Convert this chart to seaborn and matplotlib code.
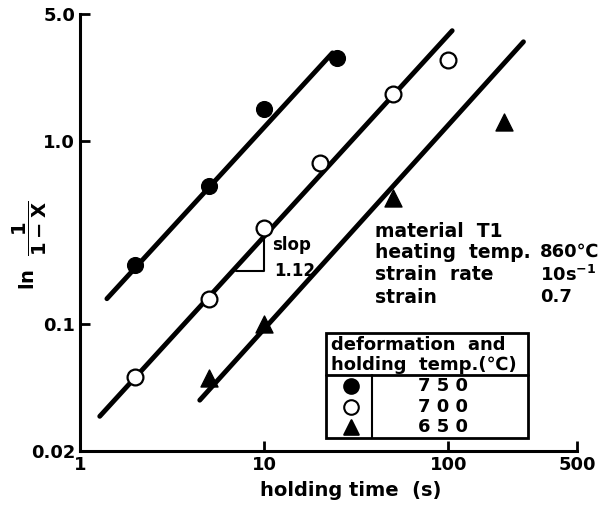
import matplotlib
matplotlib.use("Agg")
import matplotlib.pyplot as plt
import seaborn as sns
from matplotlib.patches import Rectangle

# data
t750 = [2, 5, 10, 25]
v750 = [0.21, 0.57, 1.5, 2.85]
t700 = [2, 5, 10, 20, 50, 100]
v700 = [0.051, 0.136, 0.335, 0.76, 1.82, 2.8]
t650 = [5, 10, 50, 200]
v650 = [0.05, 0.1, 0.49, 1.27]

# fitted lines (end points)
fit750_t = [1.4, 23.5]
fit750_v = [0.137, 3.06]
fit700_t = [1.28, 105]
fit700_v = [0.031, 4.05]
fit650_t = [4.47, 256]
fit650_v = [0.038, 3.52]

xticks = [1, 10, 100, 500]
yticks = [0.02, 0.1, 1.0, 5.0]
ytick_labels = ["0.02", "0.1", "1.0", "5.0"]

sns.set_style("ticks")
plt.rcParams["font.family"] = ["DejaVu Sans"]
plt.rcParams["font.weight"] = "bold"
plt.rcParams["mathtext.default"] = "bf"
for k in ["text.color", "axes.labelcolor", "xtick.color", "ytick.color", "axes.edgecolor"]:
    plt.rcParams[k] = "black"

fig = plt.figure(figsize=(6.04, 5.05), dpi=100)
ax = fig.add_axes([80 / 604, 1 - 451 / 505, 497 / 604, 437 / 505])

# fit lines
for ft, fv in [(fit750_t, fit750_v), (fit700_t, fit700_v), (fit650_t, fit650_v)]:
    sns.lineplot(x=ft, y=fv, ax=ax, color="black", lw=3.5, zorder=2)

# points
sns.scatterplot(x=t750, y=v750, ax=ax, marker="o", s=130, color="black",
                edgecolor="black", zorder=3)
sns.scatterplot(x=t700, y=v700, ax=ax, marker="o", s=130, color="white",
                edgecolor="black", linewidth=1.6, zorder=3)
sns.scatterplot(x=t650, y=v650, ax=ax, marker="^", s=150, color="black",
                edgecolor="black", zorder=3)

ax.set_xscale("log")
ax.set_yscale("log")
ax.set_xlim(1, 500)
ax.set_ylim(0.02, 5.0)
ax.set_xticks(xticks)
ax.set_xticklabels([str(v) for v in xticks])
ax.set_yticks(yticks)
ax.set_yticklabels(ytick_labels)
ax.minorticks_off()
ax.tick_params(direction="in", length=7, width=2, labelsize=13)
sns.despine(ax=ax)
for sp in ["left", "bottom"]:
    ax.spines[sp].set_linewidth(2.2)

ax.set_xlabel("holding time  (s)", fontsize=14, fontweight="bold")
ax.xaxis.set_label_coords(0.545, -0.068)
ax.set_ylabel(r"ln  $\dfrac{1}{1-X}$", fontsize=14, fontweight="bold")
ax.yaxis.set_label_coords(-0.062, 0.47)

# slope triangle
ax.plot([7.07, 10, 10], [0.194, 0.194, 0.33], color="black", lw=1.5, zorder=1)
ax.text(11, 0.27, "slop", fontsize=12, va="center")
ax.text(11.3, 0.195, "1.12", fontsize=12, va="center")

# condition text
rows = [("material  T1", ""), ("heating  temp.", "860\u2103"),
        ("strain  rate", r"10s$^{-1}$"), ("strain", "0.7")]
ys = [0.503, 0.455, 0.403, 0.352]
for (a, b), yy in zip(rows, ys):
    ax.text(0.594, yy, a, transform=ax.transAxes, fontsize=13.5, va="center")
    if b:
        ax.text(0.925, yy, b, transform=ax.transAxes, fontsize=13, va="center",
                clip_on=False)

# legend table
box = Rectangle((0.495, 0.030), 0.406, 0.240, transform=ax.transAxes,
                fill=False, lw=2, edgecolor="black", clip_on=False, zorder=4)
ax.add_patch(box)
ax.plot([0.495, 0.901], [0.174, 0.174], transform=ax.transAxes, color="black", lw=2)
ax.plot([0.5875, 0.5875], [0.030, 0.174], transform=ax.transAxes, color="black", lw=1.5)
ax.text(0.505, 0.243, "deformation  and", transform=ax.transAxes, fontsize=13, va="center")
ax.text(0.505, 0.197, "holding  temp.(\u2103)", transform=ax.transAxes, fontsize=13, va="center")
labels = ["750", "700", "650"]
row_y = [0.149, 0.101, 0.055]
styles = [("o", "black"), ("o", "white"), ("^", "black")]
for lab, yy, (mk, fc) in zip(labels, row_y, styles):
    ax.scatter([0.545], [yy], transform=ax.transAxes, marker=mk, s=110,
               facecolor=fc, edgecolor="black", linewidth=1.5, zorder=5)
    ax.text(0.73, yy, " ".join(lab), transform=ax.transAxes, fontsize=13,
            ha="center", va="center")

fig.savefig("out.png", dpi=100)
